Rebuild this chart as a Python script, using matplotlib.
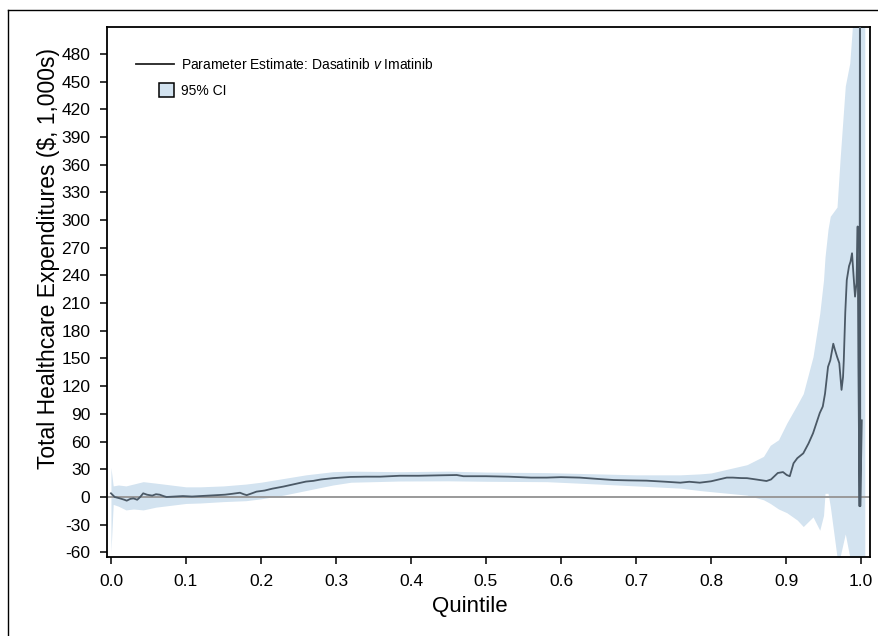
import matplotlib
matplotlib.use("Agg")
import matplotlib.pyplot as plt
from matplotlib.lines import Line2D
from matplotlib.patches import Rectangle
from matplotlib.legend_handler import HandlerPatch

plt.rcParams['font.family'] = ['Liberation Sans', 'DejaVu Sans']
plt.rcParams['mathtext.fontset'] = 'custom'
plt.rcParams['mathtext.it'] = 'Liberation Sans:italic'
plt.rcParams['axes.unicode_minus'] = False

# Parameter estimate (dasatinib v imatinib), $1,000s
quant = [0.000, 0.005, 0.012, 0.018, 0.021, 0.026, 0.030, 0.035, 0.039, 0.043,
         0.048, 0.055, 0.060, 0.065, 0.070, 0.074, 0.085, 0.096, 0.108, 0.119,
         0.130, 0.141, 0.152, 0.162, 0.172, 0.177, 0.181, 0.188, 0.194, 0.205,
         0.215, 0.230, 0.245, 0.260, 0.270, 0.280, 0.296, 0.319, 0.340, 0.359,
         0.385, 0.410, 0.440, 0.461, 0.470, 0.500, 0.530, 0.560, 0.581, 0.600,
         0.625, 0.650, 0.670, 0.690, 0.714, 0.740, 0.759, 0.771, 0.785, 0.800,
         0.821, 0.829, 0.840, 0.848, 0.860, 0.874, 0.880, 0.889, 0.896, 0.901,
         0.905, 0.910, 0.915, 0.923, 0.930, 0.936, 0.945, 0.949, 0.952, 0.956,
         0.959, 0.963, 0.965, 0.968, 0.971, 0.974, 0.976, 0.977, 0.979, 0.981,
         0.984, 0.986, 0.988, 0.990, 0.992, 0.994, 0.9955, 0.9965, 0.998, 0.9985,
         0.999, 1.001]
estimate = [4, 0, -1.5, -3, -4, -2, -1.5, -3, 0, 4,
            2.5, 1.5, 3, 2.5, 1, 0, 0.5, 1, 0.5, 1,
            1.5, 2, 2.5, 3.5, 4.6, 3, 2, 4, 5.8, 7,
            9, 11.3, 14, 16.7, 17.5, 19, 20.4, 21.7, 22, 22,
            23, 23, 23.5, 23.8, 22.5, 22.5, 22, 21, 21, 21.5,
            21, 19.5, 18.4, 18, 17.7, 16.5, 15.5, 16.5, 15.5, 17,
            21, 21, 20.5, 20.4, 19, 17.3, 19, 26, 27, 23.8,
            22.5, 36.5, 42, 47.3, 58, 69, 91, 98, 112, 141,
            148, 166, 160, 152, 145, 116, 130, 148, 200, 235,
            250, 255, 264, 240, 217, 232, 293, 141, -10, 560,
            -10, 83]

# 95% confidence band
ci_q = [0.000, 0.003, 0.010, 0.020, 0.030, 0.043, 0.060, 0.080, 0.100, 0.119,
        0.150, 0.180, 0.200, 0.230, 0.260, 0.296, 0.320, 0.385, 0.450, 0.500,
        0.581, 0.650, 0.700, 0.759, 0.785, 0.800, 0.848, 0.870, 0.879, 0.890,
        0.901, 0.915, 0.923, 0.936, 0.945, 0.950, 0.952, 0.956, 0.959, 0.968,
        0.972, 0.979, 0.985, 0.989, 1.005]
ci_lo = [-60, -8, -10, -14, -13, -14, -11, -9, -7, -6.5,
         -5, -4, -2, 2, 7, 13, 16, 17.3, 17.5, 17,
         16.6, 14, 12, 9.6, 7, 5.8, 2, -3, -7, -13,
         -17, -25, -32, -21.6, -36, -20, 4, 4, -10, -65,
         -65, -40, -65, -65, -65]
ci_hi = [32, 12, 13, 12, 14, 16.6, 15, 13, 11, 11,
         12, 14, 16, 20, 24, 27.4, 28, 27.4, 28, 27,
         26.4, 25, 24, 24, 25, 26, 35, 44, 56, 62,
         80, 100, 112, 152, 199, 235, 260, 290, 304, 314,
         365, 445, 470, 515, 515]

xticks = [0.0, 0.1, 0.2, 0.3, 0.4, 0.5, 0.6, 0.7, 0.8, 0.9, 1.0]
yticks = list(range(-60, 481, 30))

band_color = '#d3e3f0'
line_color = '#4b5966'

fig = plt.figure(figsize=(8.79, 6.36), dpi=100)
ax = fig.add_axes([0.1217, 0.1242, 0.8681, 0.8333])

ax.fill_between(ci_q, ci_lo, ci_hi, color=band_color, lw=0, zorder=1)
ax.axhline(0, color='#9a9a9a', lw=1.4, zorder=2)
ax.plot(quant, estimate, color=line_color, lw=1.3, zorder=3)

ax.set_xlim(-0.0053, 1.012)
ax.set_ylim(-65, 509)
ax.set_xticks(xticks)
ax.set_xticklabels(['%.1f' % t for t in xticks])
ax.set_yticks(yticks)
ax.tick_params(direction='out', length=5, width=1.1, labelsize=12.5, pad=7, colors='black')
for s in ax.spines.values():
    s.set_linewidth(1.3)

ax.set_ylabel('Total Healthcare Expenditures ($, 1,000s)', fontsize=16.5)
ax.yaxis.set_label_coords(-0.062, 0.564)
ax.set_xlabel('Quintile', fontsize=16)
ax.xaxis.set_label_coords(0.476, -0.074)


def square_patch(legend, orig_handle, xdescent, ydescent, width, height, fontsize):
    side = height * 1.5
    return Rectangle((width - side - xdescent, -ydescent - (side - height) / 2),
                     side, side)


h_line = Line2D([], [], color='#222222', lw=1.3)
h_ci = Rectangle((0, 0), 1, 1, facecolor=band_color, edgecolor='black', lw=1.1)
ax.legend([h_line, h_ci],
          [r'Parameter Estimate: Dasatinib $\mathit{v}$ Imatinib', '95% CI'],
          loc='upper left', bbox_to_anchor=(0.022, 0.967), frameon=False,
          fontsize=10, handlelength=2.7, handletextpad=0.55, labelspacing=0.85,
          handler_map={Rectangle: HandlerPatch(patch_func=square_patch)})

# outer panel frame (open to the right and bottom)
fig.add_artist(Line2D([0.0091, 1.0], [0.9843, 0.9843], transform=fig.transFigure,
                      color='black', lw=1.0))
fig.add_artist(Line2D([0.0091, 0.0091], [0.0, 0.9843], transform=fig.transFigure,
                      color='black', lw=1.0))

fig.savefig('out.png', dpi=100)
